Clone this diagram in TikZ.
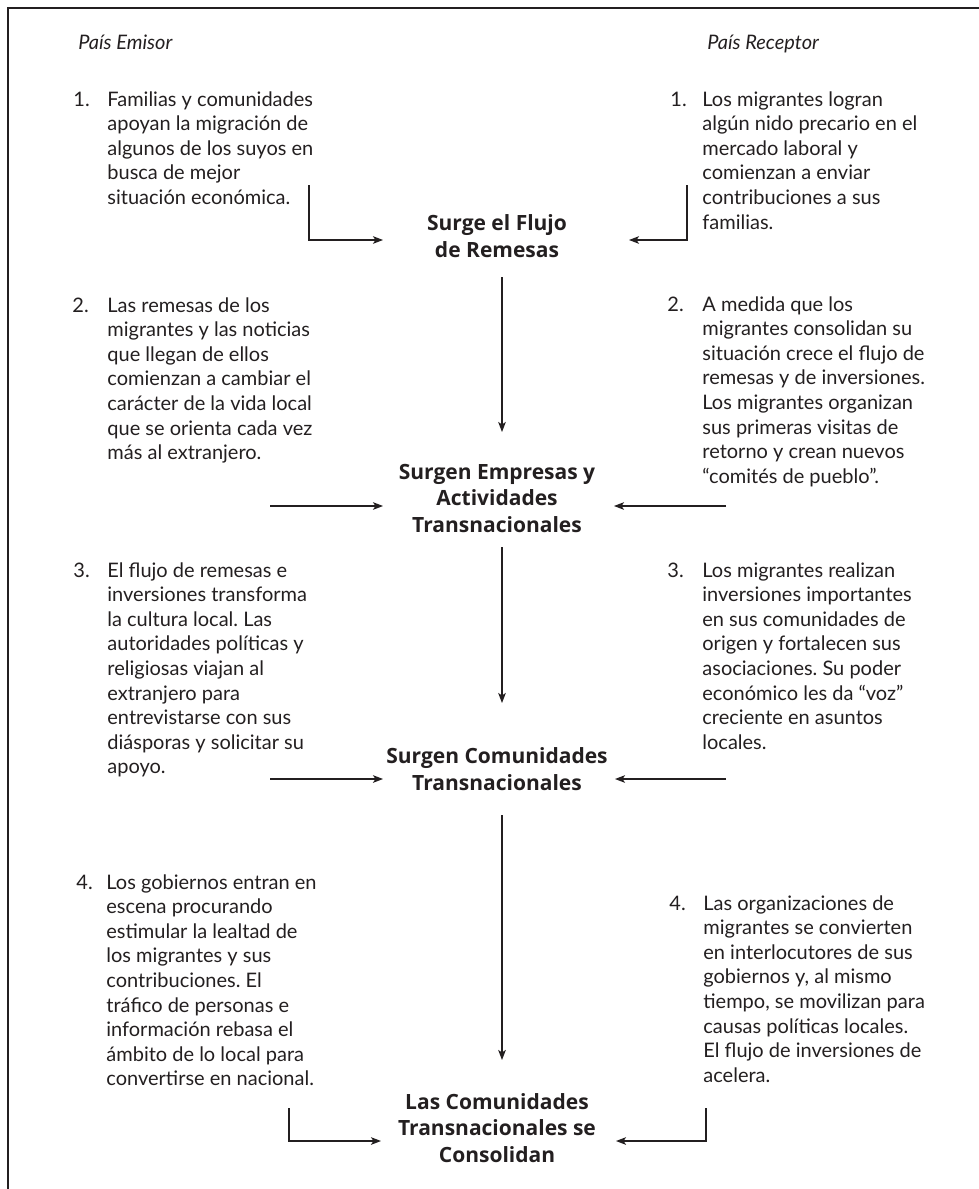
\documentclass[tikz,border=0pt]{standalone}
\usepackage{fontspec}
\setmainfont{Lato}
\newfontfamily\ttlfont{Open Sans}
\usetikzlibrary{arrows.meta}
\definecolor{ink}{HTML}{231F20}
\frenchspacing
\begin{document}
\begin{tikzpicture}[x=0.5pt,y=-0.5pt,
  txt/.style={anchor=base west, inner sep=0pt, align=left, text=ink,
    font=\fontsize{10}{12.3}\selectfont\frenchspacing},
  num/.style={anchor=base west, inner sep=0pt, text=ink,
    font=\fontsize{10}{12.3}\selectfont},
  ttl/.style={anchor=base, inner sep=0pt, align=center, text=ink,
    font=\ttlfont\fontsize{10.5}{13.2}\selectfont\bfseries},
  hdr/.style={anchor=base west, inner sep=0pt, text=ink,
    font=\fontsize{10}{12}\selectfont\itshape},
  arr/.style={-{Stealth[length=5pt,width=3.8pt,inset=1.2pt]}, line width=0.55pt, draw=ink},
  frame/.style={line width=0.6pt, draw=ink}]
\useasboundingbox (0,0) rectangle (979,1189);
% frame
\coordinate (fbl) at (8,1189);
\coordinate (ftl) at (8,8);
\coordinate (ftr) at (979,8);
\draw[frame] (fbl) -- (ftl) -- (ftr);
% headers
\node[hdr] (he) at (78,49) {País Emisor};
\node[hdr] (hr) at (707,49) {País Receptor};
% titles (anchored at the baseline of their last line)
\node[ttl] (t1) at (497,257) {Surge el Flujo\\de Remesas};
\node[ttl] (t2) at (497,532) {Surgen Empresas y\\Actividades\\Transnacionales};
\node[ttl] (t3) at (497,790) {Surgen Comunidades\\Transnacionales};
\node[ttl] (t4) at (497,1162) {Las Comunidades\\Transnacionales se\\Consolidan};
% left column (text nodes anchored at the baseline of their last line)
\node[num] (l1n) at (73,106) {1.};
\node[txt] (l1) at (107,204.4) {Familias y comunidades\\apoyan la migración de\\algunos de los suyos en\\busca de mejor\\situación económica.};
\node[num] (l2n) at (72,312) {2.};
\node[txt] (l2) at (107,459.6) {Las remesas de los\\migrantes y las noticias\\que llegan de ellos\\comienzan a cambiar el\\carácter de la vida local\\que se orienta cada vez\\más al extranjero.};
\node[num] (l3n) at (73,577) {3.};
\node[txt] (l3) at (107,773.8) {El flujo de remesas e\\inversiones transforma\\la cultura local. Las\\autoridades políticas y\\religiosas viajan al\\extranjero para\\entrevistarse con sus\\diásporas y solicitar su\\apoyo.};
\node[num] (l4n) at (76,889) {4.};
\node[txt] (l4) at (106,1085.8) {Los gobiernos entran en\\escena procurando\\estimular la lealtad de\\los migrantes y sus\\contribuciones. El\\tráfico de personas e\\información rebasa el\\ámbito de lo local para\\convertirse en nacional.};
% right column
\node[num] (r1n) at (670,106) {1.};
\node[txt] (r1) at (702,229) {Los migrantes logran\\algún nido precario en el\\mercado laboral y\\comienzan a enviar\\contribuciones a sus\\familias.};
\node[num] (r2n) at (667,311) {2.};
\node[txt] (r2) at (702,483.2) {A medida que los\\migrantes consolidan su\\situación crece el flujo de\\remesas y de inversiones.\\Los migrantes organizan\\sus primeras visitas de\\retorno y crean nuevos\\“comités de pueblo”.};
\node[num] (r3n) at (667,577) {3.};
\node[txt] (r3) at (702,749.2) {Los migrantes realizan\\inversiones importantes\\en sus comunidades de\\origen y fortalecen sus\\asociaciones. Su poder\\económico les da “voz”\\creciente en asuntos\\locales.};
\node[num] (r4n) at (669,910) {4.};
\node[txt] (r4) at (703,1082.2) {Las organizaciones de\\migrantes se convierten\\en interlocutores de sus\\gobiernos y, al mismo\\tiempo, se movilizan para\\causas políticas locales.\\El flujo de inversiones de\\acelera.};
% connector end points
\coordinate (a1ls) at (309,185); \coordinate (a1le) at (383,240);
\coordinate (a1rs) at (687,185); \coordinate (a1re) at (629,240);
\coordinate (v1s) at (502,277);  \coordinate (v1e) at (502,432);
\coordinate (a2ls) at (270,506); \coordinate (a2le) at (383,506);
\coordinate (a2rs) at (726,506); \coordinate (a2re) at (614,506);
\coordinate (v2s) at (502,547);  \coordinate (v2e) at (502,703);
\coordinate (a3ls) at (270,779); \coordinate (a3le) at (383,779);
\coordinate (a3rs) at (726,779); \coordinate (a3re) at (615,779);
\coordinate (v3s) at (502,815);  \coordinate (v3e) at (502,1060);
\coordinate (a4ls) at (289,1108); \coordinate (a4le) at (381,1141);
\coordinate (a4rs) at (706,1108); \coordinate (a4re) at (616,1141);
% connectors
\draw[arr] (a1ls) |- (a1le);
\draw[arr] (a1rs) |- (a1re);
\draw[arr] (v1s) -- (v1e);
\draw[arr] (a2ls) -- (a2le);
\draw[arr] (a2rs) -- (a2re);
\draw[arr] (v2s) -- (v2e);
\draw[arr] (a3ls) -- (a3le);
\draw[arr] (a3rs) -- (a3re);
\draw[arr] (v3s) -- (v3e);
\draw[arr] (a4ls) |- (a4le);
\draw[arr] (a4rs) |- (a4re);
\end{tikzpicture}
\end{document}
